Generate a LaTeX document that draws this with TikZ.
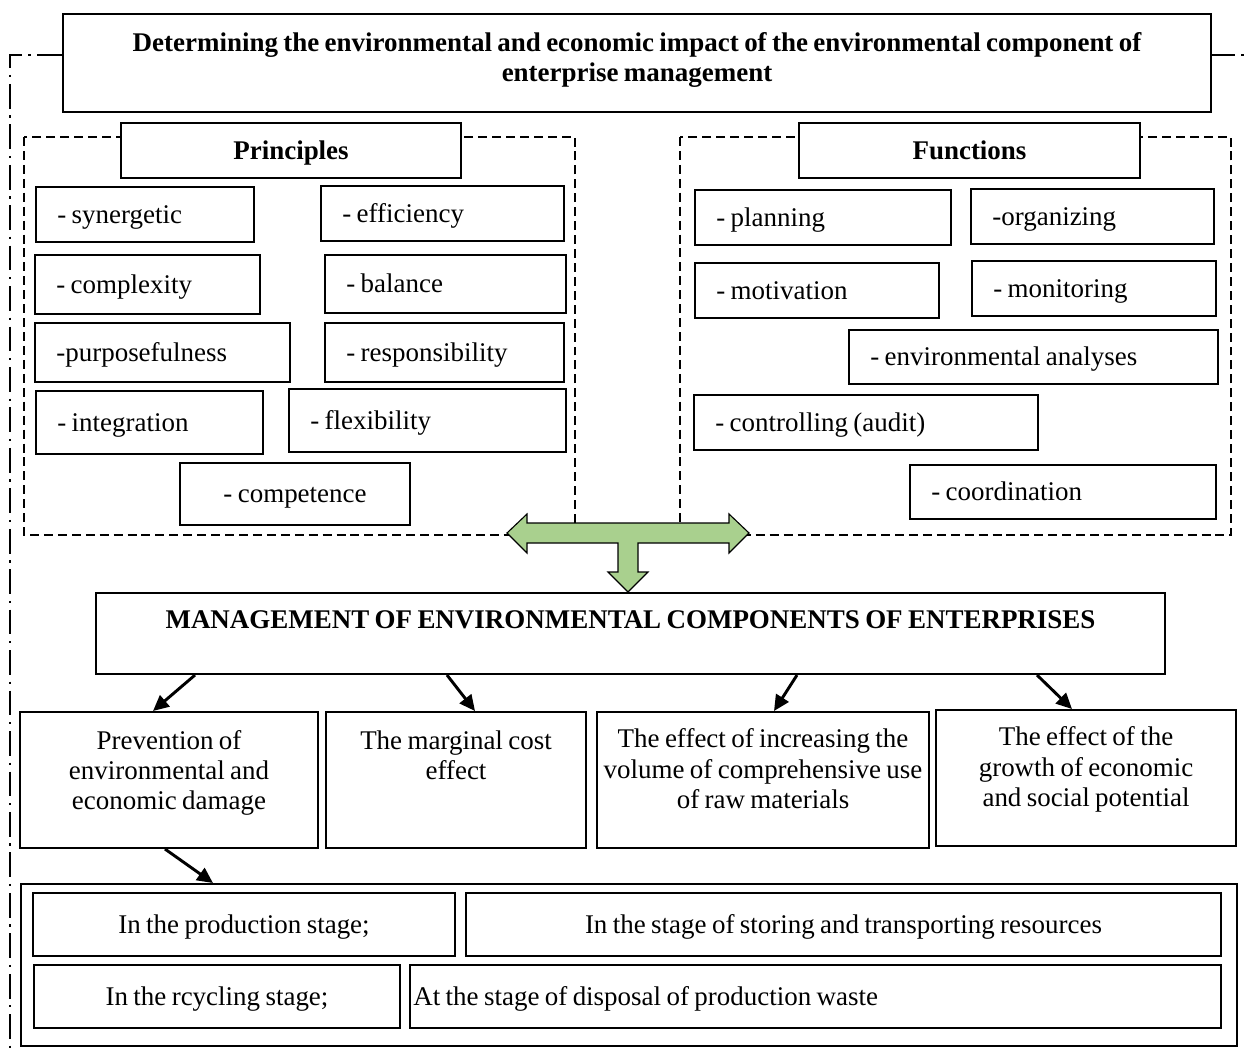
\documentclass[tikz,border=0pt]{standalone}
\usepackage{fontspec}
\setmainfont{Liberation Serif}[WordSpace=0.8]
\usetikzlibrary{arrows.meta, positioning, calc}
\definecolor{arrowgreen}{RGB}{169, 208, 142}
\newcommand{\unitpx}{0.445pt}
\hyphenpenalty=10000
\exhyphenpenalty=10000
\tikzset{
    box/.style={draw, line width=0.9pt, fill=white, anchor=north west,
                font=\fontsize{12}{13.5}\selectfont, inner ysep=0pt},
    headbox/.style 2 args={box, font=\fontsize{12}{13.5}\selectfont\bfseries,
                minimum width=#1*\unitpx, minimum height=#2*\unitpx,
                text height=9.2pt, text depth=1.5pt},
    item/.style 2 args={box, minimum width=#1*\unitpx, minimum height=#2*\unitpx,
                text width=#1*\unitpx-19pt, inner xsep=9.5pt, align=flush left,
                text height=9.2pt, text depth=1.5pt},
    citem/.style 2 args={box, minimum width=#1*\unitpx, minimum height=#2*\unitpx,
                align=center, text height=9.2pt, text depth=1.5pt},
    topbox/.style n args={3}{box, text width=#1*\unitpx-4pt, inner xsep=2pt,
                align=flush center, text height=#3, text depth=#2*\unitpx-#3},
    frame/.style={dash pattern=on 4pt off 2.2pt, line width=0.9pt},
    border/.style={dash pattern=on 11pt off 3pt on 1pt off 3pt, line width=0.8pt},
    arr/.style={line width=1.3pt, -{Triangle[length=7pt, width=6.5pt]}},
    bigarrow/.style={fill=arrowgreen, draw=black, line width=0.5pt},
}

\begin{document}
\begin{tikzpicture}[x=0.445pt, y=-0.445pt]
    \useasboundingbox (0,0) rectangle (1244,1052);

    % Outer dash-dot border and dashed groups
    \draw[border] (62,55) -- (10,55) -- (10,1052);
    \draw[border] (1210,55) -- (1244,55);
    \draw[frame] (24,137) rectangle (575,535);
    \draw[frame] (680,137) rectangle (1231,535);

    % Title
    \node[topbox={1148}{98}{16.5pt}, font=\fontsize{12}{13.5}\selectfont\bfseries]
        (title) at (62,13) {Determining the environmental and economic impact of the environmental component of\\enterprise management};

    % Principles
    \node[headbox={340}{55}] (princ) at (120,122) {Principles};
    \node[item={218}{55}] (syn) at (35,186) {- synergetic};
    \node[item={243}{55}] (eff) at (320,185) {- efficiency};
    \node[item={225}{59}] (cmplx) at (34,254) {- complexity};
    \node[item={241}{58}] (bal) at (324,254) {- balance};
    \node[item={255}{59}] (purp) at (34,322) {-purposefulness};
    \node[item={239}{59}] (resp) at (324,322) {- responsibility};
    \node[item={227}{63}] (integ) at (35,390) {- integration};
    \node[item={277}{63}] (flex) at (288,388) {- flexibility};
    \node[citem={230}{62}] (compet) at (179,462) {- competence};

    % Functions
    \node[headbox={341}{55}] (func) at (798,122) {Functions};
    \node[item={256}{55}] (plan) at (694,189) {- planning};
    \node[item={243}{55}] (org) at (970,188) {-organizing};
    \node[item={244}{55}] (motiv) at (694,262) {- motivation};
    \node[item={244}{55}] (monit) at (971,260) {- monitoring};
    \node[item={369}{54}] (envan) at (848,329) {- environmental analyses};
    \node[item={344}{55}] (ctrl) at (693,394) {- controlling (audit)};
    \node[item={306}{54}] (coord) at (909,464) {- coordination};

    % T-shaped block arrow
    \draw[bigarrow] (507,533) -- (527,514) -- (527,523) -- (729,523) -- (729,514)
        -- (749,533) -- (729,553) -- (729,543) -- (638,543) -- (638,572)
        -- (648,572) -- (628,592) -- (608,572) -- (618,572) -- (618,543)
        -- (527,543) -- (527,553) -- cycle;

    % Management and effects
    \node[topbox={1069}{81}{16pt}, font=\fontsize{12}{13.5}\selectfont\bfseries]
        (mgmt) at (95,592) {MANAGEMENT OF ENVIRONMENTAL COMPONENTS OF ENTERPRISES};
    \node[topbox={298}{136}{16.5pt}] (prev) at (19,711) {Prevention of\\environmental and\\economic damage};
    \node[topbox={260}{136}{16.5pt}] (marg) at (325,711) {The marginal cost\\effect};
    \node[topbox={332}{136}{16pt}] (raw) at (596,711) {The effect of increasing the\\volume of comprehensive use\\of raw materials};
    \node[topbox={300}{136}{16pt}] (growth) at (935,709) {The effect of the\\growth of economic\\and social potential};

    % Stages
    \node[citem={1216}{162}] (stages) at (20,883) {};
    \node[citem={422}{63}] (prod) at (32,892) {In the production stage;};
    \node[citem={755}{63}] (store) at (465,892) {In the stage of storing and transporting resources};
    \node[citem={366}{63}] (recyc) at (33,964) {In the rcycling stage;};
    \node[item={811}{63}, inner xsep=1.5pt, text width=811*\unitpx-3pt] (disp) at (409,964) {At the stage of disposal of production waste};

    % Connectors
    \draw[arr] ([shift={(100,0)}]mgmt.south west) -- ([shift={(134,0)}]prev.north west);
    \draw[arr] ([shift={(352,0)}]mgmt.south west) -- ([shift={(150,0)}]marg.north west);
    \draw[arr] ([shift={(702,0)}]mgmt.south west) -- ([shift={(178,0)}]raw.north west);
    \draw[arr] ([shift={(942,0)}]mgmt.south west) -- ([shift={(137,0)}]growth.north west);
    \draw[arr] ([shift={(146,0)}]prev.south west) -- ([shift={(193,0)}]stages.north west);
\end{tikzpicture}
\end{document}
